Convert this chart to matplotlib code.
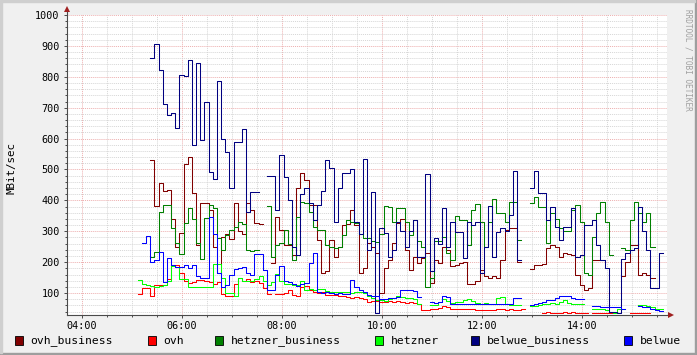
import numpy as np
import matplotlib
matplotlib.use('Agg')
import matplotlib.pyplot as plt
from matplotlib.patches import Rectangle
from matplotlib.lines import Line2D

# Messwerte in MBit/sec, 5-Minuten-Schritte ab 05:07 (None = keine Daten)
START_H = 5 + 7 / 60
STEP_H = 5 / 60

ovh_business = [
    None, None, None, 532, 382, 457, 430, 433, 340, 250,
    296, 519, 539, 423, 256, 392, 390, 369, 250, 165,
    283, 290, 275, 390, 300, 290, 390, 370, 326, 324,
    None, None, 197, 347, 304, 256, 256, 224, 439, 489,
    466, 385, 385, 272, 164, 170, 272, 218, 250, 320,
    322, 369, 320, 164, 181, 261, 250, 230, 100, 181,
    207, 261, 328, 340, 240, 175, 218, 197, 213, 229,
    134, 207, 197, 250, 240, 186, 190, 197, 200, 130,
    130, 138, 175, 155, 150, 155, 150, 207, 304, 310,
    310, 199, None, None, 177, 191, 190, 195, 245, 256,
    250, 218, 229, 225, 222, 159, 127, 111, 115, 207,
    207, 207, None, None, None, None, 156, 200, 256, 256,
    159, 165, 160, 148, None, None,
]
ovh = [
    98, 116, 115, 91, 125, 127, 125, 145, 191, 191,
    164, 140, 132, 135, 143, 143, 140, 135, 130, 135,
    98, 89, 89, 130, 148, 140, 145, 135, 140, 132,
    115, 98, None, 98, 98, 100, 110, 95, 89, 121,
    124, 110, 105, 100, 105, 95, 95, 93, 90, 90,
    88, 85, 86, 83, 82, 70, 73, 75, 70, 72,
    73, 72, 73, 72, 68, 70, 68, 65, 46, 46,
    47, 49, 52, 57, 55, 48, 48, 50, 48, 50,
    48, 45, 46, 45, 45, 46, 47, 47, 46, 47,
    46, 46, 48, None, None, None, None, 37, 38, 37,
    36, 37, 38, 37, 38, 37, 36, 36, None, 35,
    35, 35, 35, 34, None, None, None, None, 36, 37,
    35, 36, 37, None, None, None,
]
hetzner_business = [
    None, None, None, 218, 234, 363, 385, 385, 310, 261,
    227, 328, 374, 340, 261, 210, 342, 385, 375, 277,
    240, 288, 304, 315, 331, 325, 240, 235, 240, None,
    None, 382, 218, 256, 261, 304, 260, 207, 347, 396,
    390, 363, 313, 304, 304, 256, 250, 246, 250, 288,
    336, 330, 326, 290, 277, 277, 270, 265, 290, 382,
    380, 331, 374, 374, 330, 288, 336, 270, 250, 121,
    150, 267, 270, 280, 230, 207, 350, 336, 336, 256,
    369, 388, 330, 250, 330, 403, 360, 360, 330, 394,
    394, 272, None, None, 392, 412, 377, 377, 261, 358,
    340, 310, 300, 300, 369, 385, 330, 164, 160, 283,
    358, 394, 330, 224, None, None, 245, 240, 336, 394,
    360, 330, 360, 250, None, None,
]
hetzner = [
    143, 130, 125, 124, 121, 122, 125, 140, 188, 184,
    145, 145, 119, 120, 121, 121, 120, 120, 195, 195,
    150, 100, 100, 90, 148, 140, 138, 140, 145, 156,
    140, 127, 135, 162, 140, 130, 130, 127, 125, 140,
    110, 113, 110, 112, 112, 108, 105, 105, 104, 102,
    102, 100, 102, 102, 100, 92, 84, 78, 76, 75,
    82, 85, 90, 88, 85, 84, 80, 65, None, None,
    62, 62, 70, 80, 73, 68, 70, 72, 78, 81,
    75, 68, 66, 68, 66, 64, 84, 86, 65, 62,
    60, 62, None, None, 57, 57, 60, 65, 66, 68,
    65, 70, 78, 68, 66, 64, 63, None, None, 48,
    48, 48, 45, 38, 37, 50, 50, None, None, None,
    62, 60, 58, 55, 50, 47,
]
belwue_business = [
    None, None, None, 862, 905, 822, 713, 675, 682, 633,
    805, 801, 853, 578, 844, 596, 718, 492, 470, 786,
    600, 557, 439, 589, 589, 632, 363, 428, 428, None,
    None, 478, 478, 369, 546, 476, 401, 250, 224, 420,
    439, 390, 336, 385, 430, 532, 505, 330, 440, 490,
    490, 500, 330, 290, 535, 240, 428, 36, 310, 294,
    218, 240, 331, 300, 250, 300, 336, 218, 218, 485,
    170, 277, 260, 374, 250, 331, 299, 299, 213, 331,
    320, 331, 164, 250, 382, 218, 299, 310, 300, 352,
    495, 207, None, None, 439, 495, 423, 423, 336, 379,
    313, 272, 313, 313, 374, 218, 224, 320, 320, 336,
    256, 207, 182, 40, 40, 36, 210, 230, 240, 245,
    377, 300, 240, 116, 116, 229,
]
belwue = [
    None, 261, 286, 202, 207, 234, 137, 213, 190, 185,
    184, 191, 181, 190, 154, 148, 150, 347, 290, 164,
    121, 127, 160, 177, 181, 185, 165, 158, 226, 226,
    175, 111, 111, 159, 186, 140, 137, 130, 124, 130,
    133, 197, 230, 102, 100, 102, 100, 98, 100, 98,
    98, 143, 120, 110, 102, 95, 92, 89, 81, 82,
    84, 85, 88, 111, 110, 110, 108, 86, None, None,
    70, 68, 72, 89, 87, 65, 65, 65, 66, 66,
    65, 64, 64, 66, 63, 64, 65, 66, 65, 66,
    84, 85, None, None, 62, 63, 68, 70, 76, 78,
    84, 89, 89, 89, 85, 80, 80, None, None, 57,
    57, 56, 55, 55, 54, 56, 50, None, None, None,
    57, 55, 54, 50, 45, 41,
]

names = ['ovh_business', 'ovh', 'hetzner_business', 'hetzner', 'belwue_business', 'belwue']
series = [ovh_business, ovh, hetzner_business, hetzner, belwue_business, belwue]
colors = ['#800000', '#FF0000', '#008000', '#00FF00', '#000080', '#0000FF']

x_ticks = [4, 6, 8, 10, 12, 14]
x_labels = ['04:00', '06:00', '08:00', '10:00', '12:00', '14:00']
y_ticks = [100, 200, 300, 400, 500, 600, 700, 800, 900, 1000]

W, H = 697, 355
MONO = 'DejaVu Sans Mono'
plt.rcParams['font.family'] = MONO

fig = plt.figure(figsize=(W / 100, H / 100), dpi=100, facecolor='#F0F0F0')
ax = fig.add_axes([67 / W, (H - 315) / H, 600 / W, 300 / H])
ax.set_facecolor('white')

for name, vals, c in zip(names, series, colors):
    v = np.array(vals, dtype=float)
    t = START_H + np.arange(len(v) + 1) * STEP_H
    ax.step(t, np.append(v, v[-1]), where='post', color=c, lw=0.75, label=name)

ax.set_xlim(3.7, 15.7)
ax.set_ylim(29, 1000)

# Gitter wie rrdtool: fein grau, grob rot, gepunktet
ax.set_xticks(x_ticks)
ax.set_xticklabels(x_labels)
ax.set_xticks([h / 2 for h in range(8, 32) if h % 4 != 0], minor=True)
ax.set_yticks(y_ticks)
ax.set_yticks([y for y in range(40, 1000, 20) if y % 100 != 0], minor=True)
dots = (0, (1, 1))
ax.grid(which='minor', color='#D6D6D6', linestyle=dots, lw=0.7)
ax.grid(which='major', color='#EDAEAE', linestyle=dots, lw=0.7)
ax.set_axisbelow(True)

ax.tick_params(which='both', length=2, width=0.7, color='#4A4A4A', labelsize=7.3)
ax.tick_params(axis='y', which='major', pad=3.2)
ax.tick_params(axis='x', which='major', pad=2.3)
ax.tick_params(which='minor', length=1.5)

for s in ['top', 'right', 'left', 'bottom']:
    ax.spines[s].set_visible(False)

# Achsen mit Pfeilen
axis_col = '#4A4A4A'
fig.add_artist(Line2D([67 / W, 67 / W], [1 - 315 / H, 1 - 10 / H], color=axis_col, lw=0.8))
fig.add_artist(Line2D([67 / W, 671 / W], [1 - 315 / H, 1 - 315 / H], color=axis_col, lw=0.8))
fig.add_artist(Line2D([67 / W], [1 - 9 / H], marker='^', markersize=4, color='#A02020', mew=0))
fig.add_artist(Line2D([671 / W], [1 - 315 / H], marker='>', markersize=4, color='#A02020', mew=0))

fig.text(12 / W, 1 - 168 / H, 'MBit/sec', rotation=90, ha='center', va='center', fontsize=7.8)
fig.text(688 / W, 1 - 60 / H, 'RRDTOOL / TOBI OETIKER', rotation=270, ha='center', va='center',
         fontsize=5.6, color='#A0A0A0')

# Legende unten
legend_x = [15, 148, 215, 375, 471, 624]
for lx, name, c in zip(legend_x, names, colors):
    fig.patches.append(Rectangle((lx / W, 1 - 345 / H), 8 / W, 9 / H, transform=fig.transFigure,
                                 facecolor=c, edgecolor='black', lw=0.6))
    fig.text((lx + 15.5) / W, 1 - 340.5 / H, name, va='center', ha='left', fontsize=8.2)

# Rahmen (Schatten)
fig.patches.append(Rectangle((0, 0), 1, 2 / H, transform=fig.transFigure, color='#9E9E9E'))
fig.patches.append(Rectangle((1 - 2 / W, 0), 2 / W, 1, transform=fig.transFigure, color='#9E9E9E'))
fig.patches.append(Rectangle((0, 1 - 2 / H), 1 - 2 / W, 2 / H, transform=fig.transFigure, color='#CFCFCF'))
fig.patches.append(Rectangle((0, 2 / H), 2 / W, 1 - 4 / H, transform=fig.transFigure, color='#CFCFCF'))

fig.savefig('out.png', dpi=100, facecolor=fig.get_facecolor())
